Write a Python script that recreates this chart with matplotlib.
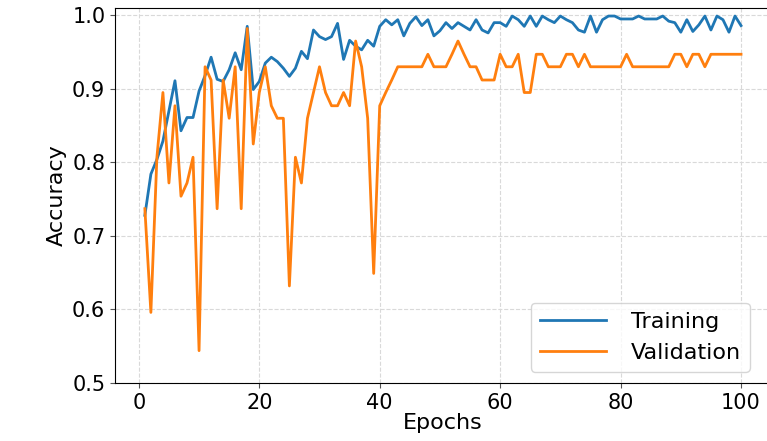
import matplotlib
matplotlib.use("Agg")
import matplotlib.pyplot as plt


# Accuracy per epoch
epochs = list(range(1, 101))

train_acc = [0.728, 0.784, 0.804, 0.829, 0.870, 0.911, 0.843, 0.861, 0.861, 0.897,
             0.918, 0.943, 0.913, 0.910, 0.926, 0.949, 0.926, 0.985, 0.899, 0.910,
             0.935, 0.943, 0.937, 0.928, 0.917, 0.928, 0.951, 0.941, 0.980, 0.971,
             0.967, 0.971, 0.989, 0.940, 0.966, 0.958, 0.953, 0.966, 0.958, 0.985,
             0.994, 0.987, 0.994, 0.972, 0.989, 0.998, 0.986, 0.994, 0.972, 0.979,
             0.990, 0.982, 0.990, 0.985, 0.980, 0.994, 0.980, 0.976, 0.990, 0.990,
             0.985, 0.999, 0.994, 0.985, 0.999, 0.985, 0.999, 0.994, 0.990, 0.999,
             0.994, 0.990, 0.980, 0.977, 0.999, 0.977, 0.994, 0.999, 0.999, 0.995,
             0.995, 0.995, 0.999, 0.995, 0.995, 0.995, 0.999, 0.992, 0.990, 0.977,
             0.994, 0.978, 0.987, 0.999, 0.980, 0.999, 0.994, 0.977, 0.999, 0.986]

val_acc = [0.737, 0.596, 0.807, 0.895, 0.772, 0.877, 0.754, 0.772, 0.807, 0.544,
           0.930, 0.912, 0.737, 0.912, 0.860, 0.930, 0.737, 0.982, 0.825, 0.895,
           0.930, 0.877, 0.860, 0.860, 0.632, 0.807, 0.772, 0.860, 0.895, 0.930,
           0.895, 0.877, 0.877, 0.895, 0.877, 0.965, 0.930, 0.860, 0.649, 0.877,
           0.895, 0.912, 0.930, 0.930, 0.930, 0.930, 0.930, 0.947, 0.930, 0.930,
           0.930, 0.947, 0.965, 0.947, 0.930, 0.930, 0.912, 0.912, 0.912, 0.947,
           0.930, 0.930, 0.947, 0.895, 0.895, 0.947, 0.947, 0.930, 0.930, 0.930,
           0.947, 0.947, 0.930, 0.947, 0.930, 0.930, 0.930, 0.930, 0.930, 0.930,
           0.947, 0.930, 0.930, 0.930, 0.930, 0.930, 0.930, 0.930, 0.947, 0.947,
           0.930, 0.947, 0.947, 0.930, 0.947, 0.947, 0.947, 0.947, 0.947, 0.947]

x_ticks = [0, 20, 40, 60, 80, 100]
y_ticks = [0.5, 0.6, 0.7, 0.8, 0.9, 1.0]


fig = plt.figure(figsize=(7.67, 4.41), dpi=100)
ax = fig.add_axes([0.150, 0.1315, 0.855, 0.8505])

ax.plot(epochs, train_acc, color="#1f77b4", lw=2, label="Training")
ax.plot(epochs, val_acc, color="#ff7f0e", lw=2, label="Validation")

ax.set_xlim(-3.95, 104.95)
ax.set_ylim(0.5, 1.01)
ax.set_xticks(x_ticks)
ax.set_yticks(y_ticks)
ax.set_yticklabels([f"{v:.1f}" for v in y_ticks])
ax.tick_params(labelsize=15, color="#555555")
ax.spines["right"].set_visible(False)

ax.grid(True, linestyle="--", color="#d9d9d9", lw=0.8)
ax.set_axisbelow(True)

ax.set_xlabel("Epochs", fontsize=16, labelpad=0)
ax.set_ylabel("Accuracy", fontsize=16, labelpad=4)

# legend box sits in the lower right, with long handles
ax.legend(loc="lower right", fontsize=16, handlelength=3.0, handletextpad=1.1,
          borderaxespad=0.5, bbox_to_anchor=(0.985, 0.0))

fig.savefig("out.png", dpi=100)
